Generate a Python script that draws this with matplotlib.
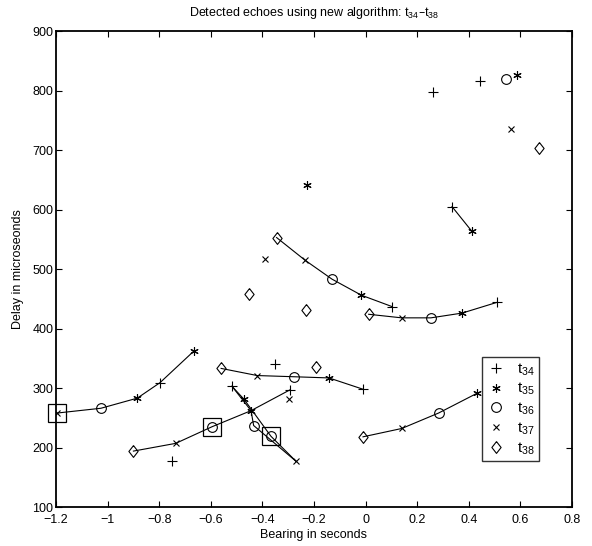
import matplotlib
matplotlib.use("Agg")
import matplotlib.pyplot as plt

plt.rcParams['font.family'] = ['Liberation Sans', 'DejaVu Sans']
plt.rcParams['mathtext.default'] = 'regular'

# echoes per time step (bearing in s, delay in microseconds)
t34_x = [0.261, 0.443, 0.335, 0.102, 0.509, -0.351, -0.010, -0.293, -0.518, -0.797, -0.749]
t34_y = [797, 816, 605, 437, 444, 341, 298, 297, 303, 309, 177]
t35_x = [0.585, -0.228, 0.411, -0.016, 0.374, -0.142, 0.431, -0.471, -0.444, -0.885, -0.666]
t35_y = [827, 642, 564, 456, 426, 317, 291, 281, 262, 283, 362]
t36_x = [0.543, -0.130, 0.253, -0.278, 0.283, -0.434, -0.367, -0.595, -1.026]
t36_y = [819, 483, 418, 319, 258, 237, 219, 235, 266]
t37_x = [0.564, -0.390, -0.235, 0.140, -0.420, -0.298, 0.140, -0.270, -0.736, -1.195]
t37_y = [735, 517, 515, 418, 321, 281, 232, 177, 207, 258]
t38_x = [0.672, -0.345, -0.452, -0.232, 0.012, -0.560, -0.193, -0.010, -0.900]
t38_y = [703, 553, 458, 431, 424, 333, 336, 218, 194]

# boxed echoes
box_x = [-1.195, -0.595, -0.367]
box_y = [258, 235, 219]

# tracked echoes (connected)
tracks = [
    ([-0.345, -0.235, -0.130, -0.016, 0.102], [553, 515, 483, 456, 437]),
    ([0.012, 0.140, 0.253, 0.374, 0.509], [424, 418, 418, 426, 444]),
    ([-0.560, -0.420, -0.278, -0.142, -0.010], [333, 321, 319, 317, 298]),
    ([-0.900, -0.736, -0.595, -0.444, -0.293], [194, 207, 235, 262, 297]),
    ([-1.195, -1.026, -0.885, -0.797, -0.666], [258, 266, 283, 309, 362]),
    ([-0.010, 0.140, 0.283, 0.431], [218, 232, 258, 291]),
    ([-0.518, -0.471, -0.367, -0.270], [303, 281, 219, 177]),
    ([-0.518, -0.444, -0.434, -0.270], [303, 262, 237, 177]),
    ([0.335, 0.411], [605, 564]),
]

# matlab-like diamond
diamond = [(0, 1), (0.78, 0), (0, -1), (-0.78, 0), (0, 1)]

fig = plt.figure(figsize=(5.92, 5.46), dpi=100)
ax = fig.add_axes([0.0946, 0.0714, 0.8716, 0.8716])

for tx, ty in tracks:
    ax.plot(tx, ty, color='black', lw=0.8)

ms = dict(color='black', ls='none', mfc='none', mew=0.8)
ax.plot(t34_x, t34_y, marker='+', markersize=7, label='t$_{34}$', **ms)
ax.plot(t35_x, t35_y, marker=(6, 2, 0), markersize=6, label='t$_{35}$', **ms)
ax.plot(t36_x, t36_y, marker='o', markersize=7, label='t$_{36}$', **ms)
ax.plot(t37_x, t37_y, marker='x', markersize=5, label='t$_{37}$', **ms)
ax.plot(t38_x, t38_y, marker=diamond, markersize=8.5, label='t$_{38}$', **ms)
ax.plot(box_x, box_y, marker='s', markersize=13, color='black', ls='none',
        mfc='none', mew=0.9, clip_on=False)

ax.set_xlim(-1.2, 0.8)
ax.set_ylim(100, 900)
ax.set_xticks([-1.2, -1, -0.8, -0.6, -0.4, -0.2, 0, 0.2, 0.4, 0.6, 0.8])
ax.set_xticklabels(['\u22121.2', '\u22121', '\u22120.8', '\u22120.6', '\u22120.4', '\u22120.2',
                    '0', '0.2', '0.4', '0.6', '0.8'])
ax.set_yticks(range(100, 1000, 100))
ax.tick_params(direction='in', top=True, right=True, length=4, width=0.8,
               labelsize=9, pad=2)
ax.tick_params(axis='x', pad=5)
for s in ax.spines.values():
    s.set_linewidth(1.3)

ax.set_xlabel('Bearing in seconds', fontsize=9, labelpad=2)
ax.set_ylabel('Delay in microseonds', fontsize=9, labelpad=6)
ax.set_title('Detected echoes using new algorithm: t$_{34}$\u2013t$_{38}$', fontsize=9, pad=11)

leg = ax.legend(loc='upper left', bbox_to_anchor=(0.825, 0.316), fontsize=11,
                frameon=True, fancybox=False, edgecolor='black', handlelength=1.3,
                handletextpad=0.7, borderpad=0.3, labelspacing=0.22, borderaxespad=0)
leg.get_frame().set_linewidth(1.0)

fig.savefig('out.png', dpi=100)
